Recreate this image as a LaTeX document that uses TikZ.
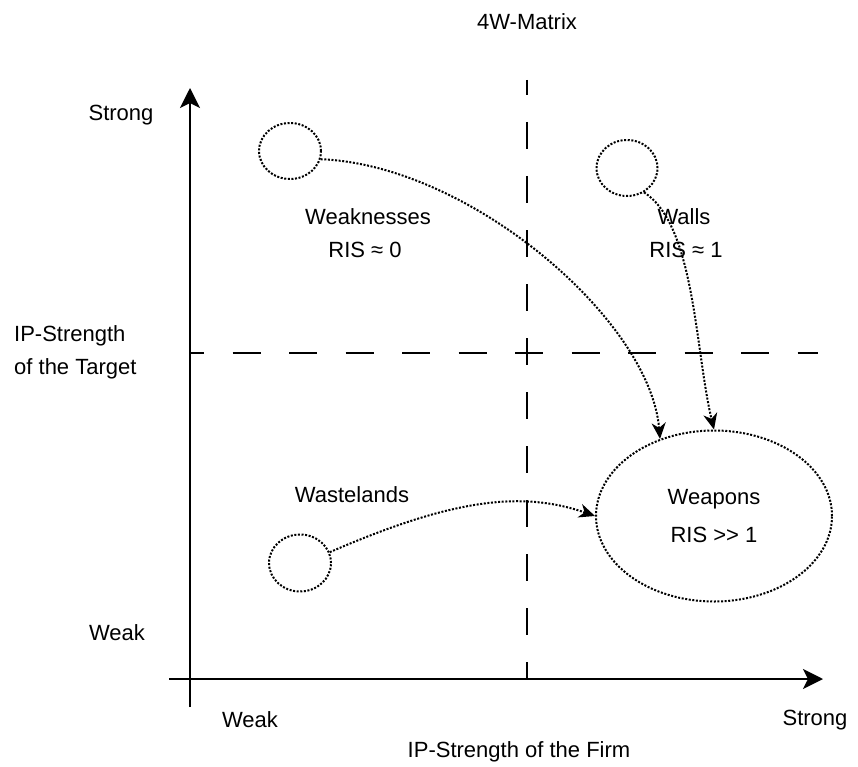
\documentclass[tikz,border=0pt]{standalone}
\usepackage{fontspec}
\setmainfont{Liberation Sans}
\usetikzlibrary{arrows.meta,shapes.geometric}
\tikzset{
  lbl/.style={inner sep=0pt, font=\fontsize{22}{26}\selectfont},
  axisline/.style={line width=2.2pt, -{Stealth[length=20pt,width=20pt,inset=5pt]}},
  divline/.style={line width=2.2pt},
  blob/.style={ellipse, draw, line width=2pt, dash pattern=on 2pt off 1.6pt, inner sep=0pt},
  flow/.style={line width=2pt, dash pattern=on 2pt off 1.6pt, -{Stealth[length=16pt,width=14pt,inset=5pt]}}
}
\begin{document}
\begin{tikzpicture}[x=1pt,y=-1pt]
\useasboundingbox (0,0) rectangle (858,767);
% title
\node[lbl] (title) at (527,22) {4W-Matrix};
% axes
\coordinate (yb) at (190,707);
\coordinate (yt) at (190,88);
\coordinate (xl) at (169,679);
\coordinate (xr) at (823,679);
\draw[axisline] (yb) -- (yt);
\draw[axisline] (xl) -- (xr);
% dashed dividers
\coordinate (vt) at (527,80);
\coordinate (vb) at (527,679);
\coordinate (hl) at (190,353);
\coordinate (hr) at (818,353);
\draw[divline, dash pattern=on 27pt off 27pt, dash phase=12pt] (vt) -- (vb);
\draw[divline, dash pattern=on 28pt off 28.5pt, dash phase=14pt] (hl) -- (hr);
% axis labels
\node[lbl] (ystrong) at (121,115) {Strong};
\node[lbl, anchor=west] (ytitle1) at (14,336) {IP-Strength};
\node[lbl, anchor=west] (ytitle2) at (14,369) {of the Target};
\node[lbl] (yweak) at (117,633) {Weak};
\node[lbl] (xweak) at (250,720) {Weak};
\node[lbl] (xstrong) at (815,720) {Strong};
\node[lbl] (xtitle) at (519,752) {IP-Strength of the Firm};
% quadrant labels
\node[lbl] (wkname) at (368,217) {Weaknesses};
\node[lbl] (wkris) at (365,250) {RIS ≈ 0};
\node[lbl] (wlname) at (684,217) {Walls};
\node[lbl] (wlris) at (686,250) {RIS ≈ 1};
\node[lbl] (wsname) at (352,495) {Wastelands};
% blobs
\node[blob, minimum width=62pt, minimum height=56pt] (wk) at (290,151) {};
\node[blob, minimum width=61pt, minimum height=56pt] (wl) at (627,168) {};
\node[blob, minimum width=62pt, minimum height=57pt] (ws) at (300,563) {};
\node[blob, minimum width=236pt, minimum height=171pt, align=center,
      font=\fontsize{22}{38}\selectfont] (wp) at (714,516) {Weapons\\RIS >{}> 1};
% flows
\draw[flow] (wk.-15) .. controls (470,165) and (650,320) .. (wp.125);
\draw[flow] (wl.-55) .. controls (695,225) and (695,350) .. (wp.90);
\draw[flow] (ws.20) .. controls (450,500) and (520,490) .. (wp.180);
\end{tikzpicture}
\end{document}
